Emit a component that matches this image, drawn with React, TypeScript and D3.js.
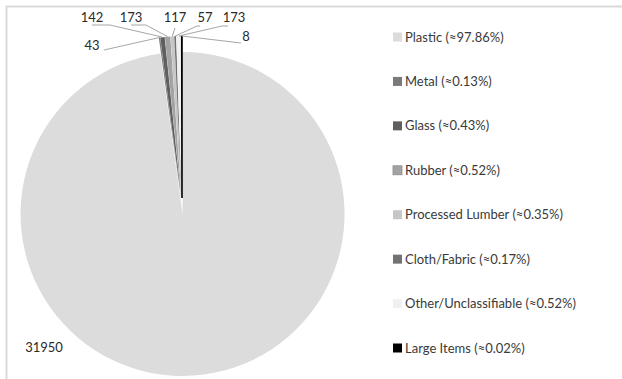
import React from "react";
import * as d3 from "d3";

const categories = [
  "Plastic",
  "Metal",
  "Glass",
  "Rubber",
  "Processed Lumber",
  "Cloth/Fabric",
  "Other/Unclassifiable",
  "Large Items",
];
const counts = [31950, 43, 142, 173, 117, 57, 173, 8];
const percentLabels = ["97.86", "0.13", "0.43", "0.52", "0.35", "0.17", "0.52", "0.02"];
const sliceColors = ["#dcdcdc", "#7a7a7a", "#5f5f5f", "#a3a3a3", "#c6c6c6", "#727272", "#f0f0f0", "#000000"];

// label layout (text anchor points) per slice
const labelLayout: { x: number; y: number; anchor: string; lx: number; ly: number; hx: number }[] = [
  { x: 44, y: 352, anchor: "middle", lx: 0, ly: 0, hx: 0 },
  { x: 92, y: 50, anchor: "middle", lx: 104, ly: 50, hx: 104 },
  { x: 92, y: 22, anchor: "middle", lx: 92, ly: 25, hx: 110 },
  { x: 131, y: 22, anchor: "middle", lx: 131, ly: 25, hx: 146 },
  { x: 175, y: 22, anchor: "middle", lx: 175, ly: 28, hx: 175 },
  { x: 205, y: 22, anchor: "middle", lx: 200, ly: 26, hx: 197 },
  { x: 234, y: 22, anchor: "middle", lx: 228, ly: 26, hx: 222 },
  { x: 246, y: 41, anchor: "middle", lx: 241, ly: 43, hx: 241 },
];

const W = 622;
const H = 379;
const cx = 182;
const cy = 206;
const R = 162;
const explode = 8;

export default function App() {
  const pie = d3.pie<number>().sort(null).value((d) => d).startAngle(0).endAngle(2 * Math.PI);
  const arcs = pie(counts);
  const arcGen = d3.arc<d3.PieArcDatum<number>>().innerRadius(0).outerRadius(R);

  const legendY = d3.scalePoint<string>().domain(categories).range([37, 348]);

  return (
    <svg
      width={W}
      height={H}
      style={{ position: "absolute", left: 0, top: 0, background: "#fff" }}
      fontFamily="Lato, 'Open Sans', sans-serif"
    >
      <rect x={0} y={0} width={W} height={H} fill="#fff" />
      <line x1={6} y1={6.5} x2={W} y2={6.5} stroke="#d9d9d9" strokeWidth={2} />
      <line x1={6.5} y1={6} x2={6.5} y2={H} stroke="#d9d9d9" strokeWidth={2} />
      <g>
        {arcs.map((a, i) => {
          const mid = (a.startAngle + a.endAngle) / 2;
          const dx = Math.sin(mid) * explode;
          const dy = -Math.cos(mid) * explode;
          return (
            <path
              key={i}
              d={arcGen(a) || ""}
              transform={`translate(${cx + dx},${cy + dy})`}
              fill={sliceColors[i]}
              stroke={i === 7 ? "#000" : "none"}
              strokeWidth={i === 7 ? 1.6 : 0}
            />
          );
        })}
      </g>
      <g>
        {arcs.map((a, i) => {
          if (i === 0) return null;
          const mid = (a.startAngle + a.endAngle) / 2;
          const px = cx + Math.sin(mid) * (R + explode);
          const py = cy - Math.cos(mid) * (R + explode);
          const L = labelLayout[i];
          const pts = `${L.lx},${L.ly} ${L.hx},${L.ly} ${px},${py}`;
          return <polyline key={i} points={pts} fill="none" stroke="#a6a6a6" strokeWidth={1} />;
        })}
      </g>
      <g fontSize={13} fill="#2a2a2a">
        {arcs.map((a, i) => {
          const L = labelLayout[i];
          return (
            <text key={i} x={L.x} y={L.y} textAnchor={L.anchor}>
              {counts[i]}
            </text>
          );
        })}
      </g>
      <g fontSize={13} fill="#3a3a3a">
        {categories.map((c, i) => {
          const y = legendY(c) as number;
          return (
            <g key={c}>
              <rect
                x={393}
                y={y - 4.5}
                width={9}
                height={9}
                fill={sliceColors[i]}
                stroke={i === 3 ? "#8c8c8c" : "none"}
                strokeWidth={0.8}
              />
              <text x={405} y={y + 4.5}>
                {`${c} (≈${percentLabels[i]}%)`}
              </text>
            </g>
          );
        })}
      </g>
    </svg>
  );
}
